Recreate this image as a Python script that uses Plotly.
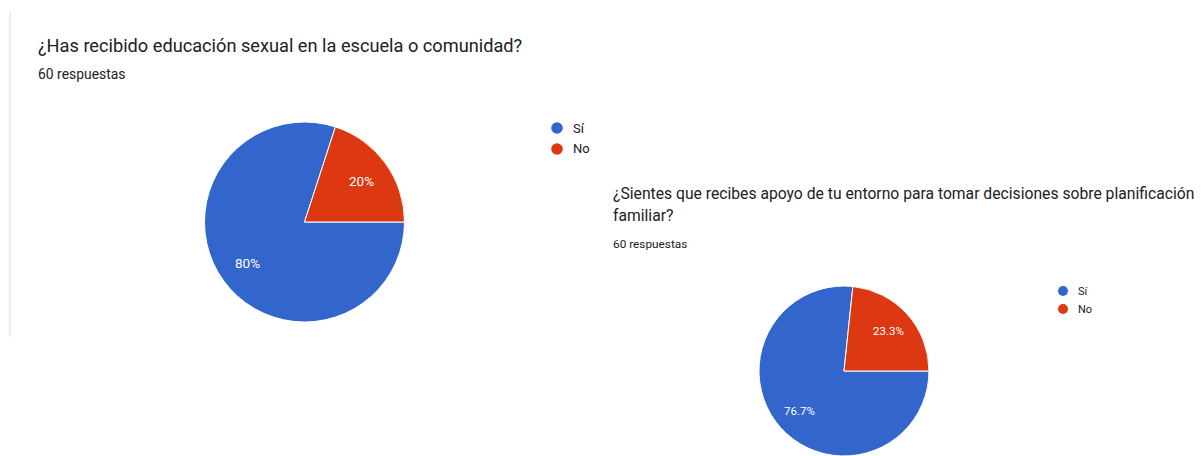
import math
import plotly.graph_objects as go

# Survey answers (60 responses per question)
categories = ["Sí", "No"]
q1_counts = [48, 12]
q2_counts = [46, 14]
colors = ["#3366CC", "#DC3912"]

q1_title = "¿Has recibido educación sexual en la escuela o comunidad?"
q2_title_lines = ["¿Sientes que recibes apoyo de tu entorno para tomar decisiones sobre planificación",
                  "familiar?"]
responses_label = "60 respuestas"

W, H = 1201, 456
FONT = "Roboto"
START_DEG = 90  # first slice begins at 3 o'clock, going clockwise


def px_x(x):
    return x / W


def px_y(y):
    return 1 - y / H


fig = go.Figure()
annotations = []
shapes = []


def text(x, y, s, size, color="#202124", anchor="left"):
    annotations.append(dict(x=px_x(x), y=px_y(y), xref="paper", yref="paper",
                            text=s, showarrow=False, xanchor=anchor, yanchor="middle",
                            font=dict(family=FONT, size=size, color=color)))


def fmt_pct(p):
    s = f"{p:.1f}".rstrip("0").rstrip(".")
    return s + "%"


def pie(counts, cx, cy, r, label_size):
    fig.add_trace(go.Pie(
        labels=categories, values=counts, sort=False, direction="clockwise", rotation=START_DEG,
        marker=dict(colors=colors, line=dict(color="white", width=1)),
        textinfo="none",
        domain=dict(x=[px_x(cx - r), px_x(cx + r)], y=[px_y(cy + r), px_y(cy - r)]),
        showlegend=False, hoverinfo="label+percent",
    ))
    # percentage labels placed along each slice's middle angle
    total = sum(counts)
    start = START_DEG
    for c in counts:
        sweep = 360 * c / total
        mid = math.radians(start + sweep / 2)
        lx = cx + 0.7 * r * math.sin(mid)
        ly = cy - 0.7 * r * math.cos(mid)
        text(lx, ly, fmt_pct(100 * c / total), label_size, color="white", anchor="center")
        start += sweep


pie(q1_counts, 304.5, 222, 100, 13.5)
pie(q2_counts, 844, 371, 85, 11.5)

# Card edge on the left
shapes.append(dict(type="line", xref="paper", yref="paper",
                   x0=px_x(10), x1=px_x(10), y0=px_y(12), y1=px_y(337),
                   line=dict(color="#dadce0", width=1)))

text(36, 45, q1_title, 18.2)
text(36, 74, responses_label, 13.9)
text(611, 193, q2_title_lines[0], 15.7)
text(611, 216, q2_title_lines[1], 15.7)
text(611, 244, responses_label, 11.8)


def legend(x, y0, dy, r, size):
    for i, (cat, col) in enumerate(zip(categories, colors)):
        cy = y0 + i * dy
        shapes.append(dict(type="circle", xref="paper", yref="paper",
                           x0=px_x(x - r), x1=px_x(x + r), y0=px_y(cy + r), y1=px_y(cy - r),
                           fillcolor=col, line=dict(width=0)))
        text(x + r + 8, cy, cat, size)


legend(557, 128, 21, 5.8, 13)
legend(1063, 291, 18, 5, 11)

fig.update_layout(
    width=W, height=H,
    margin=dict(l=0, r=0, t=0, b=0),
    paper_bgcolor="white", plot_bgcolor="white",
    annotations=annotations, shapes=shapes,
)

fig.write_html("out.html")
